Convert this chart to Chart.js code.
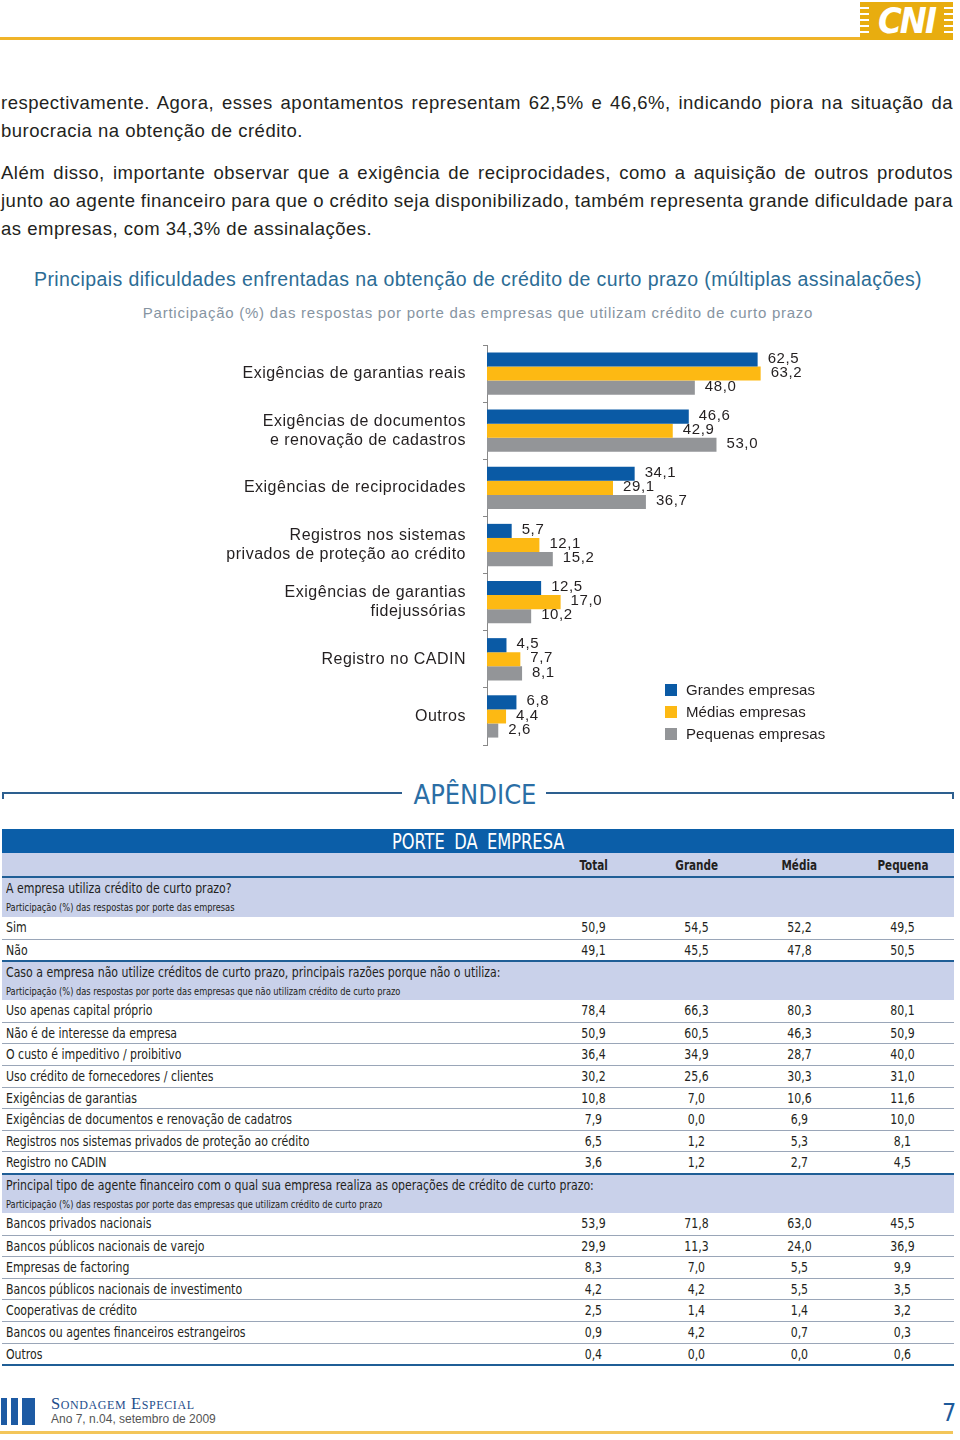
<!DOCTYPE html>
<html lang="pt">
<head>
  <meta charset="UTF-8">
  <title>Principais dificuldades na obtenção de crédito de curto prazo</title>
  <script src="https://cdn.jsdelivr.net/npm/chart.js"></script>
  <style>
    body {
      margin: 0;
      width: 960px;
      height: 1440px;
      position: relative;
      background: #fff;
      font-family: "Liberation Sans", Arial, sans-serif;
      color: #231f20;
      overflow: hidden;
    }
    .abs { position: absolute; }
    .topline { left: 0; top: 37px; width: 860px; height: 3px; background: #f0b429; }
    .logo {
      left: 860px; top: 2px; width: 93px; height: 38px; background: #e8ad0f;
      color: #fff; font: italic bold 36px "DejaVu Sans Condensed", sans-serif;
      text-align: center; line-height: 38px; letter-spacing: -2px;
    }
    .logo i { position: absolute; width: 9px; height: 2px; background: #fff; }
    .text { left: 1px; width: 953px; font-size: 18.5px; line-height: 28px; letter-spacing: 0.5px; }
    .text span { display: block; white-space: nowrap; }
    .title { left: 0; width: 956px; top: 268px; text-align: center; font-size: 19.5px; letter-spacing: 0.4px; color: #2c6c95; }
    .subtitle { left: 0; width: 956px; top: 304px; text-align: center; font-size: 15px; letter-spacing: 0.75px; color: #8694a2; }
    #chartWrap { left: 200px; top: 340px; }
    .legend { left: 665px; font-size: 15px; line-height: 22px; letter-spacing: 0.1px; }
    .legend div { position: relative; padding-left: 21px; }
    .legend b { position: absolute; left: 0; top: 5px; width: 12px; height: 12px; }
    .apx-line { height: 2px; background: #2d5f8f; top: 792px; }
    .apx-tick { width: 2px; height: 7px; background: #2d5f8f; top: 792px; }
    .apx { left: 0; width: 950px; top: 779px; text-align: center; font: 27px "DejaVu Sans Condensed", sans-serif; color: #2b6ea5; }
    #table { left: 2px; top: 829px; width: 952px; font-family: "DejaVu Sans Condensed", sans-serif; }
    #table span { display: inline-block; white-space: nowrap; }
    .band { height: 24px; background: #0b5ea8; color: #fff; text-align: center; font-size: 21px; line-height: 26px; word-spacing: 5px; }
    .band span { transform: scaleX(0.86); }
    .row { display: flex; box-sizing: border-box; }
    .row .lab { width: 536px; padding-left: 4px; }
    .row .lab span { transform: scaleX(0.84); transform-origin: 0 50%; }
    .row .val { width: 103px; text-align: center; }
    .row .val span { transform: scaleX(0.84); }
    .colhead { height: 25px; background: #c9d1ea; border-bottom: 2px solid #1f5e96; font-weight: bold; font-size: 14.5px; line-height: 25px; box-sizing: border-box; }
    .colhead .val span { transform: scaleX(0.8); }
    .sect { background: #c9d1ea; height: 39px; padding-left: 4px; box-sizing: border-box; }
    .sect span { transform-origin: 0 50%; }
    .sect .t { font-size: 14.5px; line-height: 20px; height: 20px; }
    .sect .t span { transform: scaleX(0.84); }
    .sect .s { font-size: 10px; line-height: 19px; }
    .sect .s span { transform: scaleX(0.92); }
    .sect.sep { border-top: 2px solid #1f5e96; height: 40px; }
    .data { height: 21.6px; font-size: 14.5px; line-height: 21px; }
    .data + .data { border-top: 1px solid #9aa6b8; }
    .bottom { height: 2px; background: #1f5e96; }
    .foot-bar { top: 1398px; height: 27px; background: #1d5aa3; }
    .foot1 { left: 51px; top: 1394px; font: 16.5px "Liberation Serif", serif; font-variant: small-caps; color: #1e4d8c; letter-spacing: 0.6px; }
    .foot2 { left: 51px; top: 1412px; font: 12px "Liberation Sans", sans-serif; color: #555; }
    .page { left: 942px; top: 1398px; font: 25px "DejaVu Sans Condensed", sans-serif; color: #1d5a9b; }
    .botline { left: 0; top: 1431px; width: 953px; height: 3px; background: #f3c65a; }
  </style>
</head>
<body>

<div class="abs topline"></div>
<div class="abs logo" id="logo">CNI</div>

<div class="abs text" style="top:89px">
  <span class="j">respectivamente. Agora, esses apontamentos representam 62,5% e 46,6%, indicando piora na situação da</span>
  <span>burocracia na obtenção de crédito.</span>
</div>
<div class="abs text" style="top:159px">
  <span class="j">Além disso, importante observar que a exigência de reciprocidades, como a aquisição de outros produtos</span>
  <span class="j">junto ao agente financeiro para que o crédito seja disponibilizado, também representa grande dificuldade para</span>
  <span>as empresas, com 34,3% de assinalações.</span>
</div>

<div class="abs title">Principais dificuldades enfrentadas na obtenção de crédito de curto prazo (múltiplas assinalações)</div>
<div class="abs subtitle">Participação (%) das respostas por porte das empresas que utilizam crédito de curto prazo</div>

<div class="abs" id="chartWrap"><canvas id="chart" width="720" height="410"></canvas></div>
<div class="abs legend" id="legend" style="top:679px"></div>

<div class="abs apx-line" style="left:2px;width:400px"></div>
<div class="abs apx-tick" style="left:2px"></div>
<div class="abs apx-line" style="left:546px;width:408px"></div>
<div class="abs apx-tick" style="left:952px"></div>
<div class="abs apx">APÊNDICE</div>

<div class="abs" id="table"></div>

<div class="abs foot-bar" style="left:1px;width:6px"></div>
<div class="abs foot-bar" style="left:11px;width:7px"></div>
<div class="abs foot-bar" style="left:22px;width:13px"></div>
<div class="abs foot1">Sondagem Especial</div>
<div class="abs foot2">Ano 7, n.04, setembro de 2009</div>
<div class="abs page">7</div>
<div class="abs botline"></div>

<script>
  // dados do gráfico
  const categories = [
    ['Exigências de garantias reais'],
    ['Exigências de documentos', 'e renovação de cadastros'],
    ['Exigências de reciprocidades'],
    ['Registros nos sistemas', 'privados de proteção ao crédito'],
    ['Exigências de garantias', 'fidejussórias'],
    ['Registro no CADIN'],
    ['Outros']
  ];
  const grandes = [62.5, 46.6, 34.1, 5.7, 12.5, 4.5, 6.8];
  const medias = [63.2, 42.9, 29.1, 12.1, 17.0, 7.7, 4.4];
  const pequenas = [48.0, 53.0, 36.7, 15.2, 10.2, 8.1, 2.6];
  const seriesNames = ['Grandes empresas', 'Médias empresas', 'Pequenas empresas'];
  const seriesColors = ['#0a5aa5', '#fdb913', '#939598'];

  // dados da tabela do apêndice
  const tableColumns = ['Total', 'Grande', 'Média', 'Pequena'];
  const sectionTitles = [
    'A empresa utiliza crédito de curto prazo?',
    'Caso a empresa não utilize créditos de curto prazo, principais razões porque não o utiliza:',
    'Principal tipo de agente financeiro com o qual sua empresa realiza as operações de crédito de curto prazo:'
  ];
  const sectionNotes = [
    'Participação (%) das respostas por porte das empresas',
    'Participação (%) das respostas por porte das empresas que não utilizam crédito de curto prazo',
    'Participação (%) das respostas por porte das empresas que utilizam crédito de curto prazo'
  ];
  const usoRows = [
    ['Sim', '50,9', '54,5', '52,2', '49,5'],
    ['Não', '49,1', '45,5', '47,8', '50,5']
  ];
  const razoesRows = [
    ['Uso apenas capital próprio', '78,4', '66,3', '80,3', '80,1'],
    ['Não é de interesse da empresa', '50,9', '60,5', '46,3', '50,9'],
    ['O custo é impeditivo / proibitivo', '36,4', '34,9', '28,7', '40,0'],
    ['Uso crédito de fornecedores / clientes', '30,2', '25,6', '30,3', '31,0'],
    ['Exigências de garantias', '10,8', '7,0', '10,6', '11,6'],
    ['Exigências de documentos e renovação de cadatros', '7,9', '0,0', '6,9', '10,0'],
    ['Registros nos sistemas privados de proteção ao crédito', '6,5', '1,2', '5,3', '8,1'],
    ['Registro no CADIN', '3,6', '1,2', '2,7', '4,5']
  ];
  const agenteRows = [
    ['Bancos privados nacionais', '53,9', '71,8', '63,0', '45,5'],
    ['Bancos públicos nacionais de varejo', '29,9', '11,3', '24,0', '36,9'],
    ['Empresas de factoring', '8,3', '7,0', '5,5', '9,9'],
    ['Bancos públicos nacionais de investimento', '4,2', '4,2', '5,5', '3,5'],
    ['Cooperativas de crédito', '2,5', '1,4', '1,4', '3,2'],
    ['Bancos ou agentes financeiros estrangeiros', '0,9', '4,2', '0,7', '0,3'],
    ['Outros', '0,4', '0,0', '0,0', '0,6']
  ];

  // texto justificado: espaçamento entre palavras calculado por linha
  document.querySelectorAll('.text span.j').forEach(function (el) {
    el.style.display = 'inline-block';
    const w = el.getBoundingClientRect().width;
    const spaces = (el.textContent.trim().match(/ /g) || []).length;
    el.style.display = 'block';
    el.style.wordSpacing = ((952 - w) / spaces) + 'px';
  });

  // logo: listras
  const logo = document.getElementById('logo');
  [5, 11, 17, 23, 29].forEach(function (y) {
    ['0px', '84px'].forEach(function (x) {
      const s = document.createElement('i');
      s.style.top = y + 'px';
      s.style.left = x;
      logo.appendChild(s);
    });
  });

  // legenda
  const legend = document.getElementById('legend');
  seriesNames.forEach(function (name, i) {
    legend.innerHTML += '<div><b style="background:' + seriesColors[i] + '"></b>' + name + '</div>';
  });

  // tabela
  const sp = t => '<span>' + t + '</span>';
  function cells(r) {
    return '<div class="lab">' + sp(r[0]) + '</div>' + r.slice(1).map(v => '<div class="val">' + sp(v) + '</div>').join('');
  }
  let html = '<div class="band">' + sp('PORTE DA EMPRESA') + '</div>';
  html += '<div class="row colhead"><div class="lab"></div>' + tableColumns.map(c => '<div class="val">' + sp(c) + '</div>').join('') + '</div>';
  [usoRows, razoesRows, agenteRows].forEach(function (rows, k) {
    html += '<div class="sect' + (k > 0 ? ' sep' : '') + '"><div class="t">' + sp(sectionTitles[k]) + '</div><div class="s">' + sp(sectionNotes[k]) + '</div></div>';
    rows.forEach(function (r) { html += '<div class="row data">' + cells(r) + '</div>'; });
  });
  html += '<div class="bottom"></div>';
  document.getElementById('table').innerHTML = html;

  // espaçamento de letras nos rótulos do eixo
  const spacing = {
    id: 'spacing',
    beforeDraw(chart) { chart.ctx.letterSpacing = '0.5px'; }
  };

  // rótulos de valor ao lado das barras
  const valueLabels = {
    id: 'valueLabels',
    afterDatasetsDraw(chart) {
      const ctx = chart.ctx;
      ctx.save();
      ctx.letterSpacing = '0.6px';
      ctx.font = '15px "Liberation Sans", Arial, sans-serif';
      ctx.fillStyle = '#231f20';
      ctx.textBaseline = 'middle';
      chart.data.datasets.forEach(function (ds, i) {
        chart.getDatasetMeta(i).data.forEach(function (bar, j) {
          const txt = ds.data[j].toFixed(1).replace('.', ',');
          ctx.fillText(txt, bar.x + 10, bar.y - 1);
        });
      });
      ctx.restore();
    }
  };

  new Chart(document.getElementById('chart'), {
    type: 'bar',
    data: {
      labels: categories,
      datasets: [
        { label: seriesNames[0], data: grandes, backgroundColor: seriesColors[0] },
        { label: seriesNames[1], data: medias, backgroundColor: seriesColors[1] },
        { label: seriesNames[2], data: pequenas, backgroundColor: seriesColors[2] }
      ]
    },
    options: {
      indexAxis: 'y',
      responsive: false,
      animation: false,
      layout: { padding: { top: 5, bottom: 5, left: 0, right: 0 } },
      datasets: { bar: { barPercentage: 1, categoryPercentage: 0.74 } },
      plugins: { legend: { display: false }, tooltip: { enabled: false } },
      scales: {
        x: { display: false, min: 0, max: 100 },
        y: {
          grid: { drawOnChartArea: false, drawTicks: true, tickLength: 4, color: '#888', offset: true },
          border: { display: true, color: '#888', width: 1 },
          ticks: { font: { family: '"Liberation Sans", Arial, sans-serif', size: 16 }, color: '#231f20', padding: 17 },
          afterFit(scale) {
            scale.width = 287;
            scale.paddingTop = 0;
            scale.paddingBottom = 0;
          }
        }
      }
    },
    plugins: [spacing, valueLabels]
  });
</script>

</body>
</html>
